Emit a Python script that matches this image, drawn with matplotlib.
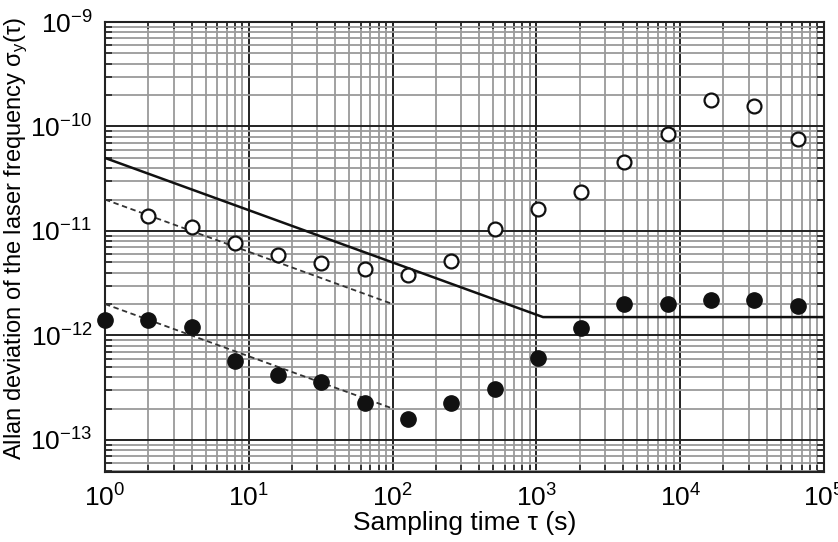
import numpy as np
import matplotlib
matplotlib.use('Agg')
import matplotlib.pyplot as plt
from matplotlib.ticker import LogLocator, LogFormatterMathtext, NullFormatter

plt.rcParams['font.family'] = ['Liberation Sans', 'DejaVu Sans']
plt.rcParams['mathtext.fontset'] = 'custom'
plt.rcParams['mathtext.rm'] = 'Liberation Sans'
plt.rcParams['mathtext.it'] = 'Liberation Sans:italic'

# sampling times (s)
tau = [1, 2, 4, 8, 16, 32, 64, 128, 256, 512, 1024, 2048, 4096, 8192, 16384, 32768, 65536]

# open circles (tau starts at 2)
tau_open = tau[1:]
sigma_open = [1.39e-11, 1.09e-11, 7.7e-12, 5.9e-12, 4.9e-12, 4.3e-12, 3.8e-12, 5.2e-12,
              1.05e-11, 1.62e-11, 2.36e-11, 4.57e-11, 8.5e-11, 1.79e-10, 1.58e-10, 7.6e-11]

# filled circles
sigma_fill = [1.41e-12, 1.41e-12, 1.2e-12, 5.7e-13, 4.2e-13, 3.6e-13, 2.26e-13, 1.59e-13,
              2.26e-13, 3.1e-13, 6.1e-13, 1.18e-12, 2.0e-12, 2.0e-12, 2.19e-12, 2.19e-12, 1.9e-12]

# limit line: 5e-11 / sqrt(tau), floor at 1.5e-12
limit_tau = [1, 1111, 1e5]
limit_sigma = [5e-11, 1.5e-12, 1.5e-12]

# tau^-1/2 fits
fit_tau = [1, 100]
fit_upper = [2e-11, 2e-12]
fit_lower = [2e-12, 2e-13]

fig = plt.figure(figsize=(8.38, 5.42), dpi=100)
ax = fig.add_axes([0.1253, 0.1292, 0.858, 0.8302])

ax.set_xscale('log')
ax.set_yscale('log')
ax.set_xlim(1, 1e5)
ax.set_ylim(4.94e-14, 1e-9)

ax.xaxis.set_major_locator(LogLocator(base=10, numticks=10))
ax.xaxis.set_minor_locator(LogLocator(base=10, subs=np.arange(2, 10), numticks=20))
ax.yaxis.set_major_locator(LogLocator(base=10, numticks=10))
ax.yaxis.set_minor_locator(LogLocator(base=10, subs=np.arange(2, 10), numticks=20))
ax.xaxis.set_major_formatter(LogFormatterMathtext())
ax.yaxis.set_major_formatter(LogFormatterMathtext())
ax.xaxis.set_minor_formatter(NullFormatter())
ax.yaxis.set_minor_formatter(NullFormatter())

ax.grid(True, which='minor', color='#9a9a9a', lw=1.3)
ax.grid(True, which='major', color='#222222', lw=1.4)
ax.set_axisbelow(True)

ax.tick_params(which='both', direction='in', top=True, right=True, labelsize=19)
ax.tick_params(which='major', length=0, pad=9)
ax.tick_params(which='minor', length=5, width=1.2, color='#222222')
for s in ax.spines.values():
    s.set_linewidth(1.5)
    s.set_color('#222222')

ax.plot(limit_tau, limit_sigma, '-', color='#111111', lw=1.8, zorder=3)
ax.plot(fit_tau, fit_upper, '--', color='#333333', lw=1.3, dashes=(3, 2), zorder=3)
ax.plot(fit_tau, fit_lower, '--', color='#333333', lw=1.3, dashes=(3, 2), zorder=3)

ax.plot(tau_open, sigma_open, 'o', ms=10, mfc='white', mec='#111111', mew=1.6, zorder=4, clip_on=False)
ax.plot(tau, sigma_fill, 'o', ms=11, mfc='#111111', mec='#111111', zorder=4, clip_on=False)

fig.text(0.5543, 1 - 523 / 542, 'Sampling time τ (s)', fontsize=19, ha='center', va='center')
fig.text(16 / 838, 1 - 238 / 542, 'Allan deviation of the laser frequency σ$_\\mathregular{y}$(τ)',
         fontsize=17, ha='center', va='center', rotation=90)

fig.savefig('out.png', dpi=100)
